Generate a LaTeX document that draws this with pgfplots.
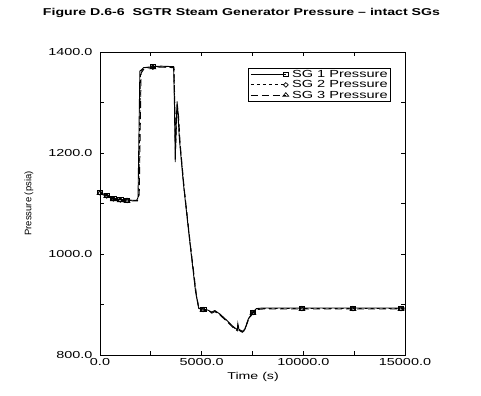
\documentclass[border=0pt]{standalone}
\usepackage{pgfplots}
\pgfplotsset{compat=1.18}
\usepackage{fontspec}
\setmainfont{Liberation Sans}
\newcommand{\wdt}[1]{\scalebox{1.42}[1]{#1}}
\begin{document}
\begin{tikzpicture}
\useasboundingbox (0,0) rectangle (481bp,396bp);
\begin{axis}[
  at={(100bp,41bp)}, anchor=south west,
  scale only axis, width=305bp, height=303bp,
  xmin=0, xmax=15000, ymin=800, ymax=1400,
  axis line style={line width=1bp},
  xtick={0,5000,10000,15000}, minor x tick num=1,
  ytick={800,1000,1200,1400}, minor y tick num=1,
  tick align=inside,
  major tick length=4bp, minor tick length=4bp,
  every tick/.style={black, line width=0.8bp},
  tick label style={font=\fontsize{10.2}{12}\selectfont},
  yticklabel style={xshift=-4bp},
  /pgf/number format/assume math mode=true,
  xticklabel={\wdt{\pgfmathprintnumber[fixed,fixed zerofill,precision=1,1000 sep={}]{\tick}}},
  yticklabel={\wdt{\pgfmathprintnumber[fixed,fixed zerofill,precision=1,1000 sep={}]{\tick}}},
  scaled x ticks=false, scaled y ticks=false,
  xlabel={\fontsize{10}{12}\selectfont\wdt{Time (s)}},
  ylabel={\fontsize{9.5}{11}\selectfont Pressure (psia)},
  every axis x label/.style={at={(axis description cs:0.502,-0.0825)}, anchor=base},
  every axis y label/.style={at={(axis description cs:-0.233,0.5)}, anchor=center, rotate=90},
  legend cell align=left,
  legend style={at={(0.485,0.947)}, anchor=north west, draw=black, line width=0.9bp,
    font=\fontsize{10.3}{11}\selectfont, inner xsep=2bp, inner ysep=1bp, row sep=-0.5bp,
    nodes={inner sep=0.8bp, text height=7.5bp, text depth=1.5bp}},
  legend image code/.code={
    \draw[#1, mark indices={2}] plot coordinates {(0bp,0bp) (35bp,0bp)};
    \path (40bp,0bp);
  },
  mark options={solid, xscale=1.4, line width=0.7bp},
]
\addplot[black, line width=0.9bp, mark=square, mark size=2bp,
  mark indices={1,2,3,4,5,10,23,36,39,40,41}] coordinates {
(0,1122) (330,1116) (660,1110) (1000,1108) (1330,1107)
(1800,1106) (1870,1112) (1960,1362) (2150,1369) (2600,1371)
(3000,1372) (3620,1371) (3660,1300) (3700,1182) (3740,1250)
(3790,1302) (3830,1280) (3900,1230) (4100,1140) (4400,1030)
(4700,925) (4850,893) (5070,891) (5300,889) (5500,885)
(5650,888) (5900,881) (6200,870) (6500,858) (6750,850)
(6780,862) (6830,851) (7000,847) (7120,851) (7300,872)
(7520,885) (7700,892) (8000,893) (9930,893) (12440,893)
(14800,893) (15000,893)
};
\addlegendentry{\wdt{SG 1 Pressure}}
\addplot[black, line width=0.9bp, dash pattern=on 3bp off 3bp, mark=diamond, mark size=2.3bp,
  mark indices={1,2,3,4,5,10,23,36,39,40,41}] coordinates {
(0,1121) (330,1115) (660,1109) (1000,1107) (1330,1106)
(1820,1106) (1900,1115) (1990,1360) (2170,1369) (2600,1370)
(3000,1371) (3630,1370) (3670,1290) (3710,1200) (3750,1260)
(3800,1295) (3850,1275) (3920,1225) (4120,1135) (4420,1025)
(4720,922) (4860,892) (5070,890) (5300,888) (5500,884)
(5650,887) (5900,880) (6200,869) (6500,857) (6750,849)
(6780,860) (6830,850) (7000,846) (7120,850) (7300,871)
(7520,884) (7700,891) (8000,892) (9930,892) (12440,892)
(14800,892) (15000,892)
};
\addlegendentry{\wdt{SG 2 Pressure}}
\addplot[black, line width=0.9bp, dash pattern=on 7bp off 4bp, mark=triangle, mark size=2.4bp,
  mark indices={1,2,3,4,5,10,23,36,39,40,41}] coordinates {
(0,1120) (330,1114) (660,1108) (1000,1106) (1330,1105)
(1840,1105) (1930,1118) (2020,1358) (2190,1368) (2600,1369)
(3000,1370) (3640,1369) (3690,1280) (3730,1220) (3770,1270)
(3820,1290) (3870,1270) (3940,1220) (4140,1130) (4440,1020)
(4740,920) (4870,891) (5070,889) (5300,887) (5500,883)
(5650,886) (5900,879) (6200,868) (6500,856) (6750,848)
(6780,858) (6830,849) (7000,845) (7120,849) (7300,870)
(7520,883) (7700,890) (8000,891) (9930,891) (12440,891)
(14800,891) (15000,891)
};
\addlegendentry{\wdt{SG 3 Pressure}}
\end{axis}
\node[anchor=base, font=\bfseries\fontsize{10}{12}\selectfont] at (241.5bp,380bp)
  {\wdt{Figure D.6-6\ \ SGTR Steam Generator Pressure – intact SGs}};
\end{tikzpicture}
\end{document}
